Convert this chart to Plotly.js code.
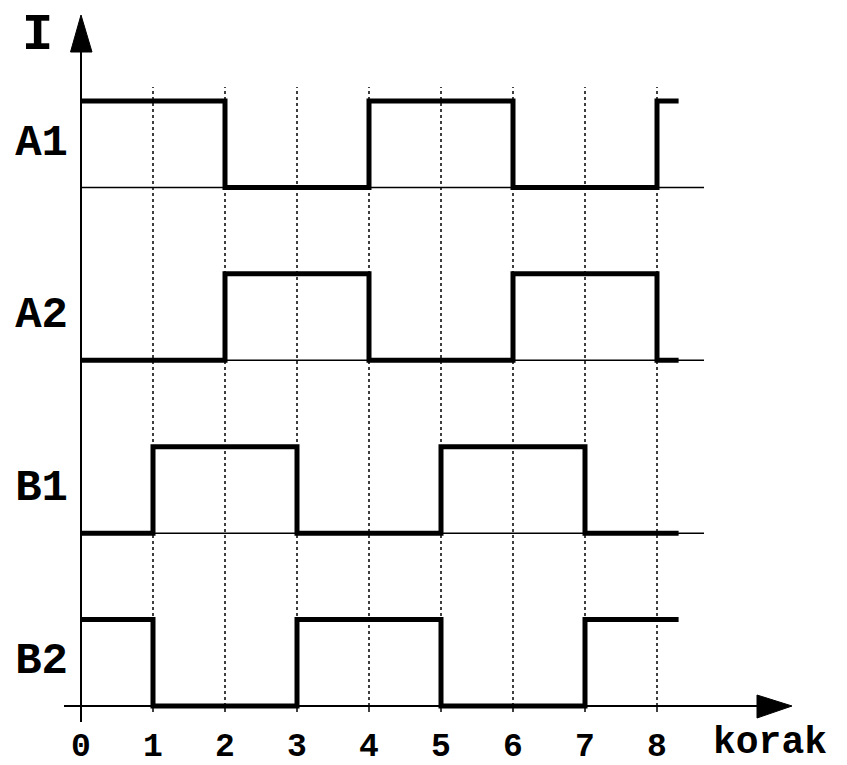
<!DOCTYPE html>
<html>
<head>
<meta charset="utf-8">
<script src="https://cdn.plot.ly/plotly-3.0.1.min.js"></script>
<style>
html,body{margin:0;padding:0;background:#fff;}
#chart{width:847px;height:765px;}
</style>
</head>
<body>
<div id="chart"></div>
<script>
// ---- data ----
const steps = [0, 1, 2, 3, 4, 5, 6, 7, 8, 8.3];
const channelNames = ["A1", "A2", "B1", "B2"];
const A1 = [1, 1, 0, 0, 1, 1, 0, 0, 1, 1];
const A2 = [0, 0, 1, 1, 0, 0, 1, 1, 0, 0];
const B1 = [0, 1, 1, 0, 0, 1, 1, 0, 0, 0];
const B2 = [1, 0, 0, 1, 1, 0, 0, 1, 1, 1];
const baseLevels = [6, 4, 2, 0];           // baseline of each channel (A1, A2, B1, B2)
const xTickVals = [0, 1, 2, 3, 4, 5, 6, 7, 8];
const xTickText = ["0", "1", "2", "3", "4", "5", "6", "7", "8"];
const yLabel = "I";
const xLabel = "korak";

// ---- geometry helpers (layout only) ----
const W = 847, H = 765;
const L = 70, R = 800, T = 10, B = 722;       // plot area in px
const x0px = 81, xUnit = 72;                  // x = 0 position, px per step
const y0px = 706, yUnit = 86.43;              // y = 0 position, px per level
const xr = [(L - x0px) / xUnit, (R - x0px) / xUnit];
const yr = [(y0px - B) / yUnit, (y0px - T) / yUnit];
const px2x = p => (p - x0px) / xUnit;
const px2y = p => (y0px - p) / yUnit;
const pxPaperX = p => (p - L) / (R - L);
const pxPaperY = p => (B - p) / (B - T);

const series = [A1, A2, B1, B2];
const traces = series.map((s, i) => ({
  type: "scatter",
  mode: "lines",
  name: channelNames[i],
  x: steps,
  y: s.map(v => v + baseLevels[i]),
  line: {shape: "hv", color: "#000", width: 5},
  hoverinfo: "x+y+name"
}));

const shapes = [];
// thin channel baselines
baseLevels.filter(b => b > 0).forEach(b => {
  shapes.push({type: "line", xref: "x", yref: "y", x0: 0, x1: px2x(704), y0: b, y1: b,
    line: {color: "#000", width: 1.5}, layer: "below"});
});
// dotted step gridlines + tick marks
xTickVals.forEach(v => {
  if (v > 0) {
    shapes.push({type: "line", xref: "x", yref: "y", x0: v, x1: v, y0: 0, y1: px2y(87),
      line: {color: "#000", width: 1.5, dash: "dot"}, layer: "below"});
  }
  shapes.push({type: "line", xref: "x", yref: "y", x0: v, x1: v, y0: 0, y1: px2y(712),
    line: {color: "#000", width: 1.5}, layer: "below"});
});
// y axis line
shapes.push({type: "line", xref: "x", yref: "paper", x0: 0, x1: 0, y0: pxPaperY(722), y1: pxPaperY(50),
  line: {color: "#000", width: 2}});
// x axis line
shapes.push({type: "line", xref: "paper", yref: "y", x0: pxPaperX(64), x1: pxPaperX(760), y0: 0, y1: 0,
  line: {color: "#000", width: 2}});
// arrow heads
shapes.push({type: "path", xref: "x", yref: "y",
  path: `M ${px2x(70.5)},${px2y(52)} L ${px2x(81)},${px2y(15)} L ${px2x(92)},${px2y(52)} Z`,
  fillcolor: "#000", line: {color: "#000", width: 1}});
shapes.push({type: "path", xref: "x", yref: "y",
  path: `M ${px2x(757)},${px2y(695)} L ${px2x(792)},${px2y(706)} L ${px2x(757)},${px2y(718)} Z`,
  fillcolor: "#000", line: {color: "#000", width: 1}});

const monoFont = "Courier New, Liberation Mono, monospace";

const layout = {
  width: W, height: H,
  margin: {l: L, r: W - R, t: T, b: H - B, pad: 0},
  paper_bgcolor: "#fff", plot_bgcolor: "#fff",
  showlegend: false,
  xaxis: {
    range: xr, fixedrange: true,
    showgrid: false, zeroline: false, showline: false, ticks: "",
    tickmode: "array", tickvals: xTickVals, ticktext: xTickText,
    tickfont: {family: monoFont, size: 33, color: "#000", weight: "bold"},
    ticklabelstandoff: 0
  },
  yaxis: {
    range: yr, fixedrange: true,
    showgrid: false, zeroline: false, showline: false, ticks: "",
    tickmode: "array", tickvals: baseLevels.map(b => b + 0.5), ticktext: channelNames,
    tickfont: {family: monoFont, size: 44, color: "#000", weight: "bold"},
    ticklabelshift: -5, ticklabelstandoff: 1
  },
  shapes: shapes,
  annotations: [
    {text: yLabel, xref: "paper", yref: "paper", x: pxPaperX(37), y: pxPaperY(35),
      xanchor: "center", yanchor: "middle", showarrow: false,
      font: {family: monoFont, size: 52, color: "#000", weight: "bold"}},
    {text: xLabel, xref: "paper", yref: "paper", x: pxPaperX(770), y: pxPaperY(742),
      xanchor: "center", yanchor: "middle", showarrow: false,
      font: {family: monoFont, size: 38, color: "#000", weight: "bold"}}
  ]
};

Plotly.newPlot("chart", traces, layout, {displayModeBar: false, staticPlot: true});
</script>
</body>
</html>
